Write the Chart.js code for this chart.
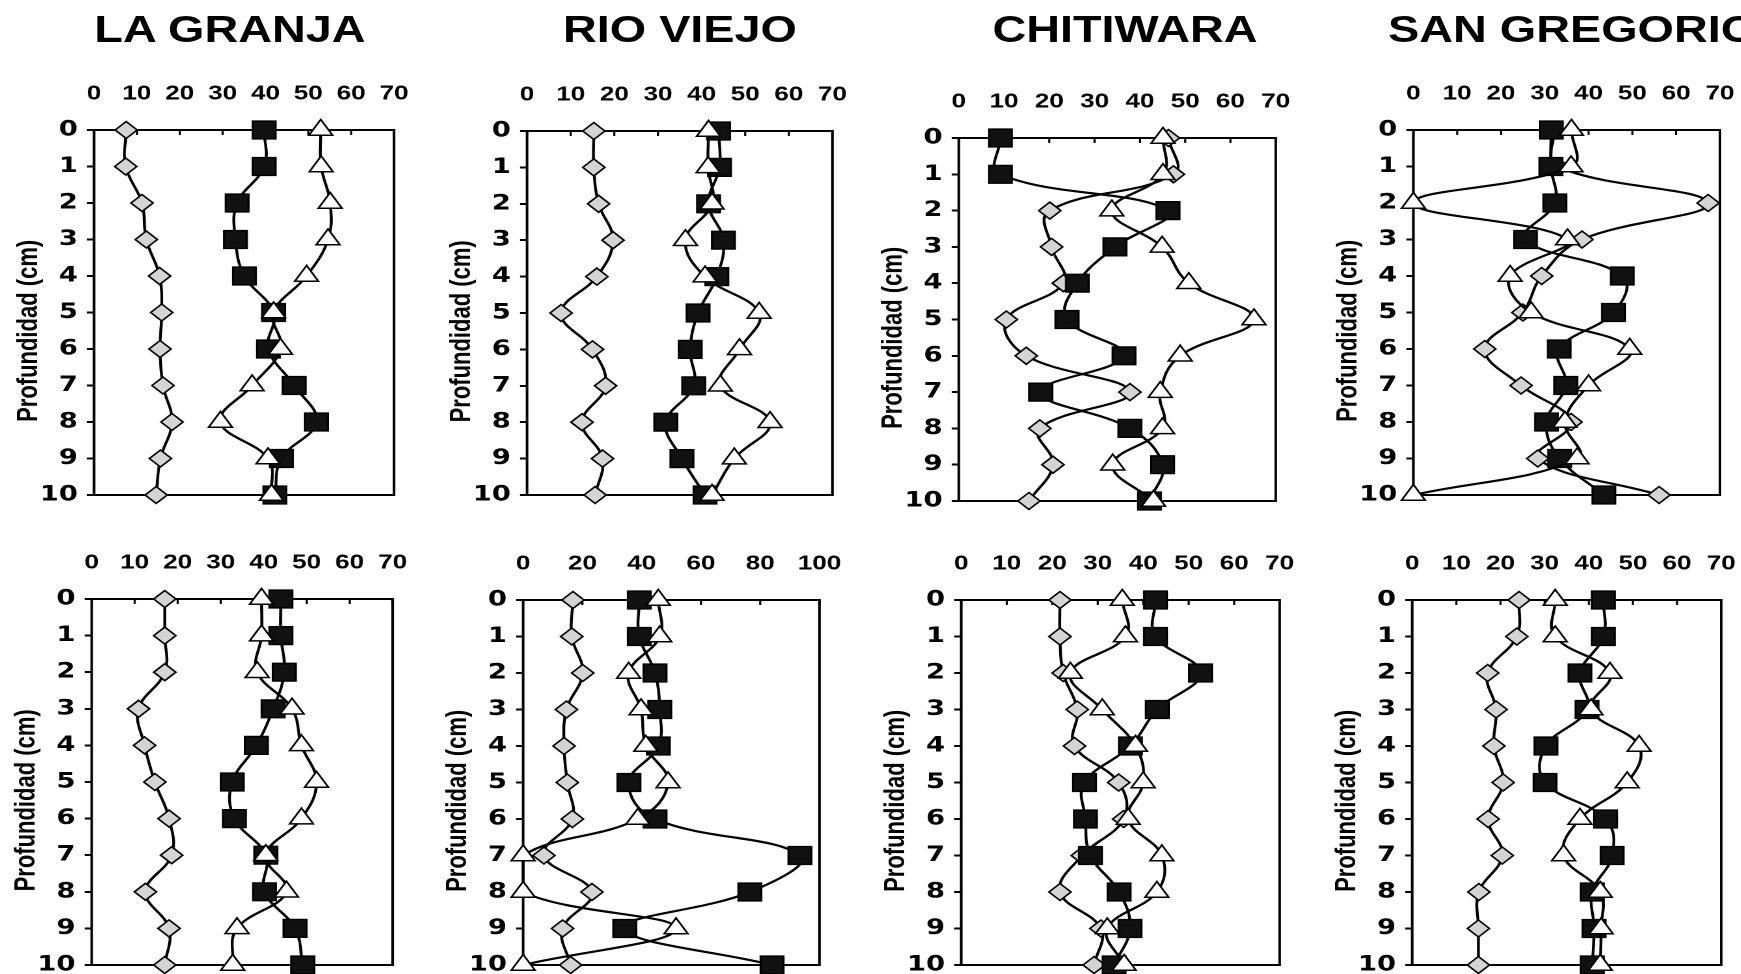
<!DOCTYPE html>
<html>
<head>
<meta charset="utf-8">
<script src="https://cdn.jsdelivr.net/npm/chart.js@4.4.0/dist/chart.umd.min.js"></script>
<style>
  html, body { margin: 0; padding: 0; background: #fff; overflow: hidden; width: 1741px; height: 974px; }
  /* the original scan is stretched sideways, so the whole sheet is too */
  #hoja { position: absolute; left: 0; top: 0; width: 1340px; height: 974px; transform: scaleX(1.3); transform-origin: 0 0; }
  .panel { position: absolute; }
  .titulo { position: absolute; top: 9px; font: bold 36px "Liberation Sans", Arial, sans-serif; white-space: nowrap; color: #000; }
</style>
</head>
<body>
<div id="hoja"></div>
<script>
// profundidad (cm)
const depths = [0, 1, 2, 3, 4, 5, 6, 7, 8, 9, 10];
const xTicks70 = [0, 10, 20, 30, 40, 50, 60, 70];
const xTicks100 = [0, 20, 40, 60, 80, 100];
const titles = ['LA GRANJA', 'RIO VIEJO', 'CHITIWARA', 'SAN GREGORIO'];

// fila de arriba
const granjaTopDiamond  = [7.5, 7.4, 11.2, 12.2, 15.3, 15.8, 15.4, 16.1, 18.2, 15.5, 14.5];
const granjaTopSquare   = [39.7, 39.7, 33.4, 33.0, 35.1, 41.9, 40.7, 46.7, 51.9, 43.7, 42.2];
const granjaTopTriangle = [52.9, 53.0, 55.1, 54.6, 49.6, 41.9, 43.5, 36.9, 29.5, 40.6, 41.4];

const rioTopDiamond  = [15.3, 15.3, 16.4, 19.7, 16.0, 7.8, 15.0, 18.0, 12.6, 17.3, 15.6];
const rioTopSquare   = [43.9, 44.1, 41.6, 45.0, 43.5, 39.2, 37.4, 38.2, 31.8, 35.5, 40.8];
const rioTopTriangle = [41.6, 41.5, 42.4, 36.3, 40.8, 53.2, 48.7, 44.3, 55.7, 47.5, 42.4];

const chitiTopDiamond  = [46.3, 47.4, 20.1, 20.5, 23.1, 10.5, 14.9, 37.8, 17.9, 20.8, 15.5];
const chitiTopSquare   = [9.2, 9.2, 46.2, 34.5, 26.2, 23.9, 36.5, 18.1, 37.8, 45.0, 42.1];
const chitiTopTriangle = [45.1, 45.1, 33.8, 44.9, 50.8, 65.2, 48.9, 44.5, 45.0, 34.0, 43.0];

const sanTopDiamond  = [32, 33, 67.3, 38.5, 29.3, 25.0, 16.3, 24.6, 36, 28.4, 56.1];
const sanTopSquare   = [31.5, 31.4, 32.3, 25.6, 47.7, 45.7, 33.3, 34.8, 30.4, 33.4, 43.5];
const sanTopTriangle = [36.1, 36.0, 0, 35.2, 22.1, 26.9, 49.4, 40.0, 34.6, 37.4, 0];

// fila de abajo
const granjaBotDiamond  = [17.0, 17.0, 17.0, 10.9, 12.3, 14.7, 18.0, 18.6, 12.5, 18.0, 17.0];
const granjaBotSquare   = [44.0, 44.0, 44.8, 42.2, 38.3, 32.7, 33.2, 40.5, 40.2, 47.3, 49.1];
const granjaBotTriangle = [39.5, 39.5, 38.5, 46.6, 48.8, 52.3, 48.8, 40.5, 45.3, 33.8, 32.8];

const rioBotDiamond  = [16.8, 16.4, 20.1, 14.6, 13.8, 14.9, 16.6, 7.0, 23.2, 13.3, 16.0];
const rioBotSquare   = [39.2, 39.2, 44.5, 46.1, 45.6, 35.7, 44.5, 93.4, 76.5, 34.3, 84.0];
const rioBotTriangle = [45.6, 46.1, 35.6, 39.8, 41.4, 48.9, 38.7, 0, 0, 51.6, 0];

const chitiBotDiamond  = [21.7, 21.7, 22.4, 25.5, 24.9, 34.6, 35.7, 26.6, 21.7, 30.7, 29.2];
const chitiBotSquare   = [42.7, 42.7, 52.6, 43.1, 37.2, 27.1, 27.3, 28.4, 34.7, 37.1, 33.6];
const chitiBotTriangle = [35.4, 36.1, 24.0, 31.0, 38.3, 40.0, 36.7, 44.1, 43.0, 32.1, 35.8];

const sanBotDiamond  = [24.2, 23.7, 17.1, 19.0, 18.5, 20.6, 17.2, 20.4, 15.1, 15.0, 15.0];
const sanBotSquare   = [43.3, 43.3, 38.0, 39.6, 30.3, 30.1, 43.8, 45.3, 40.8, 41.2, 40.8];
const sanBotTriangle = [32.4, 32.4, 44.8, 40.5, 51.4, 48.7, 38.0, 34.3, 42.6, 42.8, 42.6];

const S = 1.3; // estiramiento horizontal
const hoja = document.getElementById('hoja');

// titulos (centro en px de pantalla)
const titleCenters = [230, 680, 1125];
titles.forEach((t, i) => {
  const d = document.createElement('div');
  d.className = 'titulo';
  d.textContent = t;
  hoja.appendChild(d);
  if (i < 3) {
    d.style.left = (titleCenters[i] / S) + 'px';
    d.style.transform = 'translateX(-50%)';
  } else {
    d.style.left = (1388 / S) + 'px';
  }
});

// area de grafico de cada panel en px de pantalla
const boxes = [
  { L: 94, R: 394, T: 130, B: 495 }, { L: 527, R: 832, T: 131, B: 495 },
  { L: 959, R: 1275, T: 138, B: 501 }, { L: 1413, R: 1720, T: 130, B: 495 },
  { L: 92, R: 392, T: 599, B: 965 }, { L: 523, R: 825, T: 600, B: 965 },
  { L: 961, R: 1279, T: 600, B: 965 }, { L: 1412, R: 1721, T: 600, B: 965 }
];
const panels = [
  [granjaTopDiamond, granjaTopSquare, granjaTopTriangle, xTicks70],
  [rioTopDiamond, rioTopSquare, rioTopTriangle, xTicks70],
  [chitiTopDiamond, chitiTopSquare, chitiTopTriangle, xTicks70],
  [sanTopDiamond, sanTopSquare, sanTopTriangle, xTicks70],
  [granjaBotDiamond, granjaBotSquare, granjaBotTriangle, xTicks70],
  [rioBotDiamond, rioBotSquare, rioBotTriangle, xTicks100],
  [chitiBotDiamond, chitiBotSquare, chitiBotTriangle, xTicks70],
  [sanBotDiamond, sanBotSquare, sanBotTriangle, xTicks70]
];

const YW = 94 / S, XH = 70, PR = 28, PB = 24;
const font = (size, fam) => ({ family: fam || '"Liberation Sans", Arial, sans-serif', size: size, weight: 'bold' });
const pts = (vals) => depths.map((d, i) => ({ x: vals[i], y: d }));

// marco y rayitas hacia adentro en el eje de arriba
const marco = {
  id: 'marco',
  beforeDatasetsDraw(chart) {
    const { ctx, chartArea: a } = chart;
    const x = chart.scales.x;
    ctx.save();
    ctx.strokeStyle = '#000';
    ctx.lineWidth = 2;
    ctx.strokeRect(a.left, a.top, a.right - a.left, a.bottom - a.top);
    ctx.lineWidth = 1.6;
    x.ticks.forEach(t => {
      const px = x.getPixelForValue(t.value);
      ctx.beginPath();
      ctx.moveTo(px, a.top);
      ctx.lineTo(px, a.top + 5);
      ctx.stroke();
    });
    ctx.restore();
  }
};

function serie(vals, style, radius, fill) {
  return {
    data: pts(vals),
    showLine: true,
    tension: 0.4,
    borderColor: '#000',
    borderWidth: 2.2,
    pointStyle: style,
    pointRadius: radius,
    pointBackgroundColor: fill,
    pointBorderColor: '#000',
    pointBorderWidth: 1.5,
    clip: false
  };
}

panels.forEach((p, k) => {
  const b = boxes[k];
  const ticksX = p[3];
  const wrap = document.createElement('div');
  wrap.className = 'panel';
  wrap.style.left = (b.L / S - YW) + 'px';
  wrap.style.top = (b.T - XH) + 'px';
  wrap.style.width = ((b.R - b.L) / S + YW + PR) + 'px';
  wrap.style.height = ((b.B - b.T) + XH + PB) + 'px';
  const cv = document.createElement('canvas');
  wrap.appendChild(cv);
  hoja.appendChild(wrap);

  new Chart(cv, {
    type: 'scatter',
    data: {
      datasets: [
        serie(p[2], 'triangle', 10.5, '#fff'),
        serie(p[1], 'rect', 12.5, '#111'),
        serie(p[0], 'rectRot', 8.5, '#d4d4d4')
      ]
    },
    options: {
      responsive: true,
      maintainAspectRatio: false,
      devicePixelRatio: 2,
      animation: false,
      layout: { padding: { left: 0, top: 0, right: PR, bottom: PB } },
      plugins: { legend: { display: false }, tooltip: { enabled: false } },
      scales: {
        x: {
          type: 'linear',
          position: 'top',
          min: ticksX[0],
          max: ticksX[ticksX.length - 1],
          ticks: { stepSize: ticksX[1] - ticksX[0], padding: 16, color: '#000', font: font(20), maxRotation: 0 },
          grid: { display: false },
          border: { display: false },
          afterFit: s => { s.height = XH; }
        },
        y: {
          type: 'linear',
          reverse: true,
          min: depths[0],
          max: depths[depths.length - 1],
          ticks: { stepSize: 1, padding: 7, color: '#000', font: font(21, '"DejaVu Sans", sans-serif') },
          grid: { drawOnChartArea: false, drawTicks: true, tickLength: 5.4, color: '#000', lineWidth: 2 },
          border: { display: false },
          title: {
            display: true,
            text: 'Profundidad (cm)      ',
            color: '#000',
            font: font(22),
            padding: { top: 9, bottom: 0 }
          },
          afterFit: s => { s.width = YW; }
        }
      }
    },
    plugins: [marco]
  });
});
</script>
</body>
</html>
